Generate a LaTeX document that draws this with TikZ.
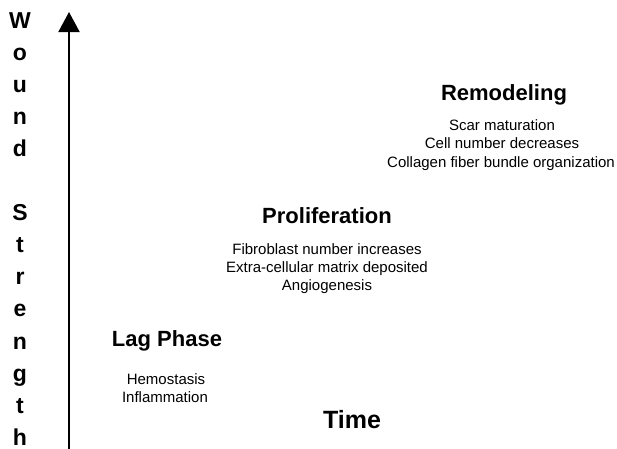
\documentclass[tikz,border=0pt]{standalone}
\usepackage{fontspec}
\setmainfont{Liberation Sans}
\usetikzlibrary{arrows.meta}
\tikzset{
  title/.style={font=\bfseries\fontsize{22}{26}\selectfont, anchor=base, inner sep=0pt},
  small/.style={font=\fontsize{15}{18}\selectfont, anchor=base, inner sep=0pt},
  axislabel/.style={font=\bfseries\fontsize{23}{26}\selectfont, anchor=base, inner sep=0pt},
  axis/.style={line width=2pt, -{Triangle[width=21pt,length=20pt]}}
}
\begin{document}
\begin{tikzpicture}[x=1pt,y=-1pt]
\useasboundingbox (0,0) rectangle (617,448);
% axis
\coordinate (bot) at (69,452);
\coordinate (top) at (69,12);
\draw[axis] (bot) -- (top);
% vertical label
\foreach \ch/\i in {W/0,o/1,u/2,n/3,d/4,S/6,t/7,r/8,e/9,n/10,g/11,t/12,h/13}{
  \node[axislabel] (L\i) at (20,{28+32.1*\i}) {\ch};
}
% Remodeling
\node[title] (remod) at (504,100) {Remodeling};
\node[small] (r1) at (502,130) {Scar maturation};
\node[small] (r2) at (502,148.5) {Cell number decreases};
\node[small] (r3) at (501,167) {Collagen fiber bundle organization};
% Proliferation
\node[title] (prolif) at (327,223) {Proliferation};
\node[small] (p1) at (327,254) {Fibroblast number increases};
\node[small] (p2) at (327,272) {Extra-cellular matrix deposited};
\node[small] (p3) at (327,290) {Angiogenesis};
% Lag phase
\node[title] (lag) at (167,346) {Lag Phase};
\node[small] (l1) at (166,384) {Hemostasis};
\node[small] (l2) at (165,402) {Inflammation};
% Time
\node[title, font=\bfseries\fontsize{25}{28}\selectfont] (time) at (352,428) {Time};
\end{tikzpicture}
\end{document}
